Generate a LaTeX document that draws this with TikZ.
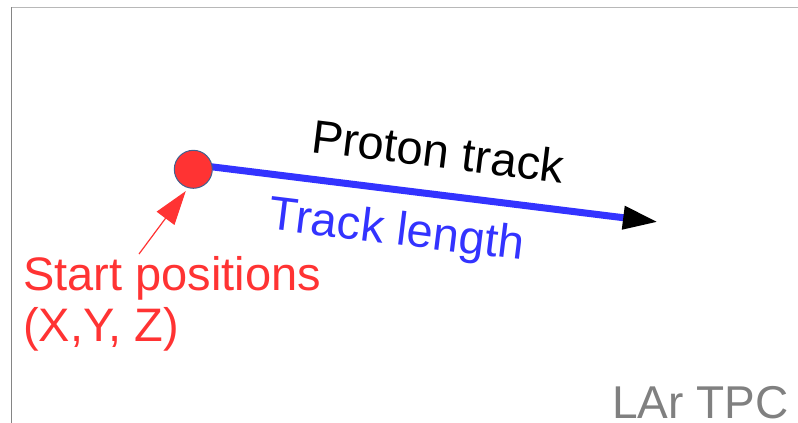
\documentclass[tikz,border=0pt]{standalone}
\usepackage{fontspec}
\setmainfont{Liberation Sans}
\usepackage{tikz}
\usetikzlibrary{arrows.meta}

\definecolor{startred}{HTML}{FF3333}
\definecolor{trackblue}{HTML}{3333FF}
\definecolor{rimblue}{HTML}{40608F}
\definecolor{labelgray}{HTML}{808080}

\begin{document}
\begin{tikzpicture}[
  x=1pt, y=-1pt,
  font=\fontsize{47}{51}\selectfont,
  lbl/.style={inner sep=0pt, anchor=base},
  vertexdot/.style={circle, draw=rimblue, line width=1pt, fill=startred, minimum size=38pt, inner sep=0pt, outer sep=4pt},
  track/.style={trackblue, line width=7pt, -{Triangle[length=35pt, width=22pt, black]}},
  pointer/.style={startred, line width=1.2pt, -{Triangle[length=34pt, width=22pt]}},
  >=Stealth
]
\useasboundingbox (0,0) rectangle (798,423);
% frame of the detector
\draw[line width=1.5pt, color=black!28] (11,7.5) -- (798,7.5);
\draw[line width=1.2pt, color=black!48] (11.5,7) -- (11.5,423);

\coordinate (trackstart) at (193,164.5);
\coordinate (trackend) at (658,222);
\draw[track] (trackstart) -- (trackend);
\node[vertexdot] (vertex) at (193.3,169.3) {};

\node[lbl, rotate=-7] (proton) at (436,167.5) {Proton track};
\node[lbl, rotate=-7, text=trackblue] (length) at (395,244.5) {Track length};

% base anchor sits on the last line
\node[lbl, anchor=base west, align=left, text=startred] (start) at (23,341) {Start positions\\(X,Y, Z)};
\coordinate (ptrstart) at (139,254);
\draw[pointer] (ptrstart) -- (vertex.251);

\node[lbl, anchor=base west, text=labelgray, font=\fontsize{46}{50}\selectfont] (tpc) at (612,418) {LAr TPC};
\end{tikzpicture}
\end{document}
